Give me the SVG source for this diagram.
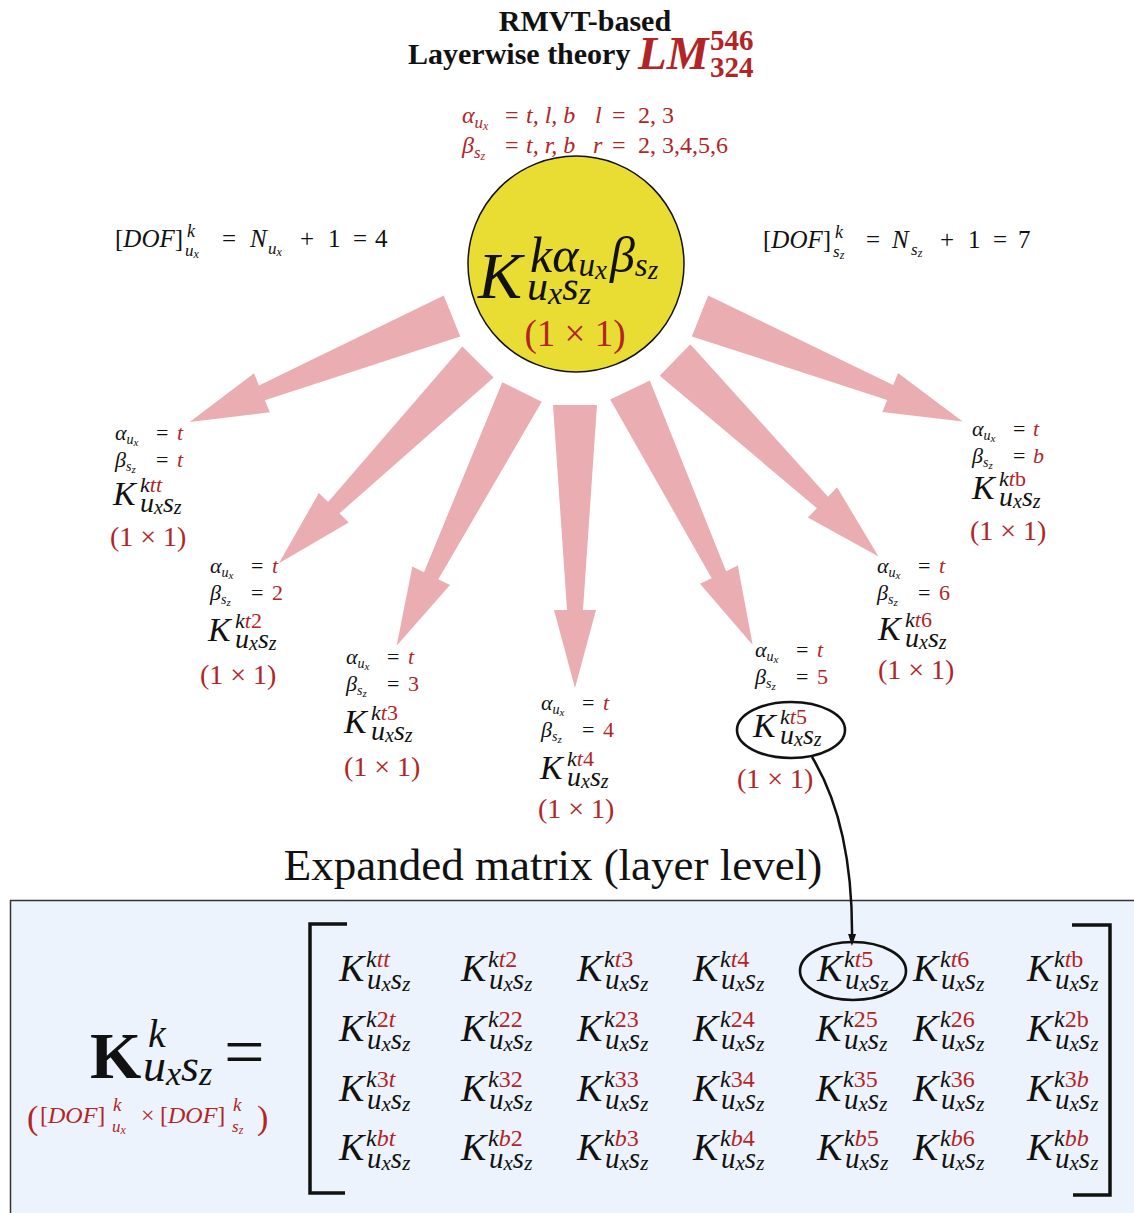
<svg xmlns="http://www.w3.org/2000/svg" xmlns:xlink="http://www.w3.org/1999/xlink" width="1134" height="1213" viewBox="0 0 1134 1213">
<style>
text{font-family:"Liberation Serif","Times New Roman",serif;fill:#111}
.i{font-style:italic}
.n{font-style:normal}
.r{fill:#b22527}
.b{font-weight:bold}
.lab{font-size:22px}
.ls{font-size:14px}
.lss{font-size:11px}
.Kn{font-size:34px;font-style:italic}
.supn{font-size:22px;font-style:italic}
.subn{font-size:28px;font-style:italic}
.ssn{font-size:20px}
.Km{font-size:38px;font-style:italic}
.supm{font-size:24px;font-style:italic}
.subm{font-size:29px;font-style:italic}
.ssm{font-size:21px}
.one{font-size:28px;fill:#b22527}
.dof{font-size:25px}
.arw{fill:#e9adb2}
.ring{fill:none;stroke:#111;stroke-width:2.6}
</style>
<defs>
<path id="arw" d="M0,-22 L205,-8 L205,-21 L283,0 L205,21 L205,8 L0,22Z"/>
<marker id="ah" markerWidth="12" markerHeight="18" refX="9" refY="6" orient="auto" markerUnits="userSpaceOnUse" viewBox="0 0 18 12">
<path d="M0,0 L18,6 L0,12Z" fill="#111"/>
</marker>
</defs>
<rect x="0" y="0" width="1134" height="1213" fill="#fff"/>

<!-- title -->
<g id="title">
<text class="b" x="585" y="31" font-size="30" text-anchor="middle">RMVT-based</text>
<text class="b" x="408" y="64" font-size="30">Layerwise theory</text>
<text class="b i r" x="638" y="69" font-size="47">LM</text>
<text class="b r" x="710" y="50" font-size="29">546</text>
<text class="b r" x="710" y="77" font-size="29">324</text>
</g>

<g id="params">
<text class="i r" y="123" font-size="24"><tspan x="462">α</tspan><tspan font-size="17" dy="5">u</tspan><tspan font-size="12" dy="2">x</tspan><tspan class="n" x="505" dy="-7">=</tspan><tspan x="526">t, l, b</tspan><tspan x="595">l</tspan><tspan class="n" x="612">=</tspan><tspan class="n" x="638">2, 3</tspan></text>
<text class="i r" y="153" font-size="24"><tspan x="462">β</tspan><tspan font-size="17" dy="5">s</tspan><tspan font-size="12" dy="2">z</tspan><tspan class="n" x="505" dy="-7">=</tspan><tspan x="526">t, r, b</tspan><tspan x="593">r</tspan><tspan class="n" x="612">=</tspan><tspan class="n" x="638">2, 3,4,5,6</tspan></text>
</g>

<g id="dof-ux">
<text class="dof" y="247"><tspan x="115">[</tspan><tspan class="i">DOF</tspan><tspan>]</tspan></text>
<text class="i" x="187" y="237" font-size="18">k</text>
<text class="i" x="185" y="256" font-size="17">u<tspan font-size="12" dy="2">x</tspan></text>
<text class="dof" x="222" y="247">=</text>
<text class="dof i" x="250" y="247">N</text>
<text class="i" x="268" y="254" font-size="17">u<tspan font-size="12" dy="2">x</tspan></text>
<text class="dof" x="300" y="247">+</text>
<text class="dof" x="328" y="247">1</text>
<text class="dof" x="353" y="247">=</text>
<text class="dof" x="375" y="247">4</text>
</g>

<g id="dof-sz">
<text class="dof" y="248"><tspan x="763">[</tspan><tspan class="i">DOF</tspan><tspan>]</tspan></text>
<text class="i" x="835" y="238" font-size="18">k</text>
<text class="i" x="833" y="257" font-size="17">s<tspan font-size="12" dy="2">z</tspan></text>
<text class="dof" x="866" y="248">=</text>
<text class="dof i" x="892" y="248">N</text>
<text class="i" x="911" y="255" font-size="17">s<tspan font-size="12" dy="2">z</tspan></text>
<text class="dof" x="940" y="248">+</text>
<text class="dof" x="968" y="248">1</text>
<text class="dof" x="993" y="248">=</text>
<text class="dof" x="1018" y="248">7</text>
</g>

<!-- connectors -->
<g id="connectors">
<use xlink:href="#arw" href="#arw" class="arw" transform="translate(452,316) rotate(158)"/>
<use xlink:href="#arw" href="#arw" class="arw" transform="translate(478,362) rotate(134.7)"/>
<use xlink:href="#arw" href="#arw" class="arw" transform="translate(522,392) rotate(116.3)"/>
<use xlink:href="#arw" href="#arw" class="arw" transform="translate(575,405) rotate(90)"/>
<use xlink:href="#arw" href="#arw" class="arw" transform="translate(630,390) rotate(64.3)"/>
<use xlink:href="#arw" href="#arw" class="arw" transform="translate(675,360) rotate(44)"/>
<use xlink:href="#arw" href="#arw" class="arw" transform="translate(700,316) rotate(21.9)"/>
</g>

<!-- center node -->
<g id="center">
<circle cx="576" cy="264" r="108" fill="#e9dc33" stroke="#111" stroke-width="1.5"/>
<text class="i" x="478" y="298" font-size="66">K</text>
<text class="i" x="530" y="272" font-size="50">kα<tspan font-size="33" dy="4">u</tspan><tspan font-size="27" dy="3">x</tspan><tspan dy="-7" dx="3">β</tspan><tspan font-size="33" dy="4">s</tspan><tspan font-size="27" dy="3">z</tspan></text>
<text class="i" x="527" y="300" font-size="42">u<tspan font-size="32" dy="4">x</tspan><tspan dy="-4">s</tspan><tspan font-size="32" dy="4">z</tspan></text>
<text x="575" y="346" font-size="37" class="r" text-anchor="middle">(1 × 1)</text>
</g>

<!-- child nodes -->
<g id="node-tt">
<text class="lab i" x="115" y="440">α<tspan class="ls" dy="4">u</tspan><tspan class="lss" dy="2">x</tspan></text>
<text class="lab" x="156" y="440">=</text><text class="lab i r" x="177" y="440">t</text>
<text class="lab i" x="115" y="467">β<tspan class="ls" dy="4">s</tspan><tspan class="lss" dy="2">z</tspan></text>
<text class="lab" x="156" y="467">=</text><text class="lab i r" x="177" y="467">t</text>
<text class="Kn" x="113" y="505">K</text>
<text class="supn" x="140" y="492">k<tspan class="r">tt</tspan></text>
<text class="subn" x="140" y="512">u<tspan class="ssn" dy="2">x</tspan><tspan dy="-2">s</tspan><tspan class="ssn" dy="2">z</tspan></text>
<text class="one" x="110" y="546">(1 × 1)</text>
</g>

<g id="node-t2">
<text class="lab i" x="210" y="573">α<tspan class="ls" dy="4">u</tspan><tspan class="lss" dy="2">x</tspan></text>
<text class="lab" x="251" y="573">=</text><text class="lab i r" x="272" y="573">t</text>
<text class="lab i" x="210" y="600">β<tspan class="ls" dy="4">s</tspan><tspan class="lss" dy="2">z</tspan></text>
<text class="lab" x="251" y="600">=</text><text class="lab r" x="272" y="600">2</text>
<text class="Kn" x="208" y="641">K</text>
<text class="supn" x="235" y="628">k<tspan class="r">t<tspan class="n">2</tspan></tspan></text>
<text class="subn" x="235" y="648">u<tspan class="ssn" dy="2">x</tspan><tspan dy="-2">s</tspan><tspan class="ssn" dy="2">z</tspan></text>
<text class="one" x="200" y="684">(1 × 1)</text>
</g>

<g id="node-t3">
<text class="lab i" x="346" y="664">α<tspan class="ls" dy="4">u</tspan><tspan class="lss" dy="2">x</tspan></text>
<text class="lab" x="387" y="664">=</text><text class="lab i r" x="408" y="664">t</text>
<text class="lab i" x="346" y="691">β<tspan class="ls" dy="4">s</tspan><tspan class="lss" dy="2">z</tspan></text>
<text class="lab" x="387" y="691">=</text><text class="lab r" x="408" y="691">3</text>
<text class="Kn" x="344" y="733">K</text>
<text class="supn" x="371" y="720">k<tspan class="r">t<tspan class="n">3</tspan></tspan></text>
<text class="subn" x="371" y="740">u<tspan class="ssn" dy="2">x</tspan><tspan dy="-2">s</tspan><tspan class="ssn" dy="2">z</tspan></text>
<text class="one" x="344" y="776">(1 × 1)</text>
</g>

<g id="node-t4">
<text class="lab i" x="541" y="710">α<tspan class="ls" dy="4">u</tspan><tspan class="lss" dy="2">x</tspan></text>
<text class="lab" x="582" y="710">=</text><text class="lab i r" x="603" y="710">t</text>
<text class="lab i" x="541" y="737">β<tspan class="ls" dy="4">s</tspan><tspan class="lss" dy="2">z</tspan></text>
<text class="lab" x="582" y="737">=</text><text class="lab r" x="603" y="737">4</text>
<text class="Kn" x="540" y="779">K</text>
<text class="supn" x="567" y="766">k<tspan class="r">t<tspan class="n">4</tspan></tspan></text>
<text class="subn" x="567" y="786">u<tspan class="ssn" dy="2">x</tspan><tspan dy="-2">s</tspan><tspan class="ssn" dy="2">z</tspan></text>
<text class="one" x="538" y="818">(1 × 1)</text>
</g>

<g id="node-t5">
<text class="lab i" x="755" y="657">α<tspan class="ls" dy="4">u</tspan><tspan class="lss" dy="2">x</tspan></text>
<text class="lab" x="796" y="657">=</text><text class="lab i r" x="817" y="657">t</text>
<text class="lab i" x="755" y="684">β<tspan class="ls" dy="4">s</tspan><tspan class="lss" dy="2">z</tspan></text>
<text class="lab" x="796" y="684">=</text><text class="lab r" x="817" y="684">5</text>
<ellipse class="ring" cx="791" cy="730" rx="54" ry="28"/>
<text class="Kn" x="753" y="737">K</text>
<text class="supn" x="780" y="724">k<tspan class="r">t<tspan class="n">5</tspan></tspan></text>
<text class="subn" x="780" y="744">u<tspan class="ssn" dy="2">x</tspan><tspan dy="-2">s</tspan><tspan class="ssn" dy="2">z</tspan></text>
<text class="one" x="737" y="788">(1 × 1)</text>
</g>

<g id="node-t6">
<text class="lab i" x="877" y="573">α<tspan class="ls" dy="4">u</tspan><tspan class="lss" dy="2">x</tspan></text>
<text class="lab" x="918" y="573">=</text><text class="lab i r" x="939" y="573">t</text>
<text class="lab i" x="877" y="600">β<tspan class="ls" dy="4">s</tspan><tspan class="lss" dy="2">z</tspan></text>
<text class="lab" x="918" y="600">=</text><text class="lab r" x="939" y="600">6</text>
<text class="Kn" x="878" y="640">K</text>
<text class="supn" x="905" y="627">k<tspan class="r">t<tspan class="n">6</tspan></tspan></text>
<text class="subn" x="905" y="647">u<tspan class="ssn" dy="2">x</tspan><tspan dy="-2">s</tspan><tspan class="ssn" dy="2">z</tspan></text>
<text class="one" x="878" y="679">(1 × 1)</text>
</g>

<g id="node-tb">
<text class="lab i" x="972" y="436">α<tspan class="ls" dy="4">u</tspan><tspan class="lss" dy="2">x</tspan></text>
<text class="lab" x="1013" y="436">=</text><text class="lab i r" x="1033" y="436">t</text>
<text class="lab i" x="972" y="463">β<tspan class="ls" dy="4">s</tspan><tspan class="lss" dy="2">z</tspan></text>
<text class="lab" x="1013" y="463">=</text><text class="lab i r" x="1033" y="463">b</text>
<text class="Kn" x="972" y="499">K</text>
<text class="supn" x="999" y="486">k<tspan class="r">t<tspan class="n">b</tspan></tspan></text>
<text class="subn" x="999" y="506">u<tspan class="ssn" dy="2">x</tspan><tspan dy="-2">s</tspan><tspan class="ssn" dy="2">z</tspan></text>
<text class="one" x="970" y="540">(1 × 1)</text>
</g>

<text id="expanded-title" x="553" y="880" font-size="45" text-anchor="middle">Expanded matrix (layer level)</text>

<!-- matrix panel -->
<g id="matrix-panel">
<rect x="10.5" y="900.5" width="1140" height="330" fill="#ecf3fc" stroke="#333" stroke-width="1.5"/>
<text class="b" x="90" y="1078" font-size="66">K</text>
<text class="i" x="148" y="1047" font-size="40">k</text>
<text class="i" x="143" y="1081" font-size="46">u<tspan font-size="34" dy="4">x</tspan><tspan dy="-4">s</tspan><tspan font-size="34" dy="4">z</tspan></text>
<text x="224" y="1076" font-size="72">=</text>
<g id="dims">
<text class="r" x="27" y="1129" font-size="34">(</text>
<text class="r" x="40" y="1123" font-size="24">[<tspan class="i">DOF</tspan>]</text>
<text class="r i" x="113" y="1111" font-size="19">k</text>
<text class="r i" x="112" y="1132" font-size="17">u<tspan font-size="12" dy="2">x</tspan></text>
<text class="r" x="141" y="1123" font-size="24">×</text>
<text class="r" x="160" y="1123" font-size="24">[<tspan class="i">DOF</tspan>]</text>
<text class="r i" x="233" y="1111" font-size="19">k</text>
<text class="r i" x="232" y="1132" font-size="17">s<tspan font-size="12" dy="2">z</tspan></text>
<text class="r" x="257" y="1129" font-size="34">)</text>
</g>
<path d="M347,924 H310 V1193 H345" fill="none" stroke="#111" stroke-width="3.5"/>
<path d="M1072,925 H1110 V1195 H1073" fill="none" stroke="#111" stroke-width="3.5"/>
</g>

<g id="matrix-entries">
<!-- row 1 -->
<g id="m-tt"><text class="Km" x="339" y="981">K</text><text class="supm" x="366" y="967">k<tspan class="r">tt</tspan></text><text class="subm" x="367" y="989">u<tspan class="ssm" dy="2">x</tspan><tspan dy="-2">s</tspan><tspan class="ssm" dy="2">z</tspan></text></g>
<g id="m-t2"><text class="Km" x="461" y="981">K</text><text class="supm" x="488" y="967">k<tspan class="r">t<tspan class="n">2</tspan></tspan></text><text class="subm" x="489" y="989">u<tspan class="ssm" dy="2">x</tspan><tspan dy="-2">s</tspan><tspan class="ssm" dy="2">z</tspan></text></g>
<g id="m-t3"><text class="Km" x="577" y="981">K</text><text class="supm" x="604" y="967">k<tspan class="r">t<tspan class="n">3</tspan></tspan></text><text class="subm" x="605" y="989">u<tspan class="ssm" dy="2">x</tspan><tspan dy="-2">s</tspan><tspan class="ssm" dy="2">z</tspan></text></g>
<g id="m-t4"><text class="Km" x="693" y="981">K</text><text class="supm" x="720" y="967">k<tspan class="r">t<tspan class="n">4</tspan></tspan></text><text class="subm" x="721" y="989">u<tspan class="ssm" dy="2">x</tspan><tspan dy="-2">s</tspan><tspan class="ssm" dy="2">z</tspan></text></g>
<g id="m-t5"><ellipse class="ring" cx="853" cy="971" rx="53" ry="29" stroke-width="3"/><text class="Km" x="817" y="981">K</text><text class="supm" x="844" y="967">k<tspan class="r">t<tspan class="n">5</tspan></tspan></text><text class="subm" x="845" y="989">u<tspan class="ssm" dy="2">x</tspan><tspan dy="-2">s</tspan><tspan class="ssm" dy="2">z</tspan></text></g>
<g id="m-t6"><text class="Km" x="913" y="981">K</text><text class="supm" x="940" y="967">k<tspan class="r">t<tspan class="n">6</tspan></tspan></text><text class="subm" x="941" y="989">u<tspan class="ssm" dy="2">x</tspan><tspan dy="-2">s</tspan><tspan class="ssm" dy="2">z</tspan></text></g>
<g id="m-tb"><text class="Km" x="1027" y="981">K</text><text class="supm" x="1054" y="967">k<tspan class="r">t<tspan class="n">b</tspan></tspan></text><text class="subm" x="1055" y="989">u<tspan class="ssm" dy="2">x</tspan><tspan dy="-2">s</tspan><tspan class="ssm" dy="2">z</tspan></text></g>
<!-- row 2 -->
<g id="m-2t"><text class="Km" x="339" y="1041">K</text><text class="supm" x="366" y="1027">k<tspan class="r"><tspan class="n">2</tspan>t</tspan></text><text class="subm" x="367" y="1049">u<tspan class="ssm" dy="2">x</tspan><tspan dy="-2">s</tspan><tspan class="ssm" dy="2">z</tspan></text></g>
<g id="m-22"><text class="Km" x="461" y="1041">K</text><text class="supm" x="488" y="1027">k<tspan class="r n">22</tspan></text><text class="subm" x="489" y="1049">u<tspan class="ssm" dy="2">x</tspan><tspan dy="-2">s</tspan><tspan class="ssm" dy="2">z</tspan></text></g>
<g id="m-23"><text class="Km" x="577" y="1041">K</text><text class="supm" x="604" y="1027">k<tspan class="r n">23</tspan></text><text class="subm" x="605" y="1049">u<tspan class="ssm" dy="2">x</tspan><tspan dy="-2">s</tspan><tspan class="ssm" dy="2">z</tspan></text></g>
<g id="m-24"><text class="Km" x="693" y="1041">K</text><text class="supm" x="720" y="1027">k<tspan class="r n">24</tspan></text><text class="subm" x="721" y="1049">u<tspan class="ssm" dy="2">x</tspan><tspan dy="-2">s</tspan><tspan class="ssm" dy="2">z</tspan></text></g>
<g id="m-25"><text class="Km" x="816" y="1041">K</text><text class="supm" x="843" y="1027">k<tspan class="r n">25</tspan></text><text class="subm" x="844" y="1049">u<tspan class="ssm" dy="2">x</tspan><tspan dy="-2">s</tspan><tspan class="ssm" dy="2">z</tspan></text></g>
<g id="m-26"><text class="Km" x="913" y="1041">K</text><text class="supm" x="940" y="1027">k<tspan class="r n">26</tspan></text><text class="subm" x="941" y="1049">u<tspan class="ssm" dy="2">x</tspan><tspan dy="-2">s</tspan><tspan class="ssm" dy="2">z</tspan></text></g>
<g id="m-2b"><text class="Km" x="1027" y="1041">K</text><text class="supm" x="1054" y="1027">k<tspan class="r n">2b</tspan></text><text class="subm" x="1055" y="1049">u<tspan class="ssm" dy="2">x</tspan><tspan dy="-2">s</tspan><tspan class="ssm" dy="2">z</tspan></text></g>
<!-- row 3 -->
<g id="m-3t"><text class="Km" x="339" y="1101">K</text><text class="supm" x="366" y="1087">k<tspan class="r"><tspan class="n">3</tspan>t</tspan></text><text class="subm" x="367" y="1109">u<tspan class="ssm" dy="2">x</tspan><tspan dy="-2">s</tspan><tspan class="ssm" dy="2">z</tspan></text></g>
<g id="m-32"><text class="Km" x="461" y="1101">K</text><text class="supm" x="488" y="1087">k<tspan class="r n">32</tspan></text><text class="subm" x="489" y="1109">u<tspan class="ssm" dy="2">x</tspan><tspan dy="-2">s</tspan><tspan class="ssm" dy="2">z</tspan></text></g>
<g id="m-33"><text class="Km" x="577" y="1101">K</text><text class="supm" x="604" y="1087">k<tspan class="r n">33</tspan></text><text class="subm" x="605" y="1109">u<tspan class="ssm" dy="2">x</tspan><tspan dy="-2">s</tspan><tspan class="ssm" dy="2">z</tspan></text></g>
<g id="m-34"><text class="Km" x="693" y="1101">K</text><text class="supm" x="720" y="1087">k<tspan class="r n">34</tspan></text><text class="subm" x="721" y="1109">u<tspan class="ssm" dy="2">x</tspan><tspan dy="-2">s</tspan><tspan class="ssm" dy="2">z</tspan></text></g>
<g id="m-35"><text class="Km" x="816" y="1101">K</text><text class="supm" x="843" y="1087">k<tspan class="r n">35</tspan></text><text class="subm" x="844" y="1109">u<tspan class="ssm" dy="2">x</tspan><tspan dy="-2">s</tspan><tspan class="ssm" dy="2">z</tspan></text></g>
<g id="m-36"><text class="Km" x="913" y="1101">K</text><text class="supm" x="940" y="1087">k<tspan class="r n">36</tspan></text><text class="subm" x="941" y="1109">u<tspan class="ssm" dy="2">x</tspan><tspan dy="-2">s</tspan><tspan class="ssm" dy="2">z</tspan></text></g>
<g id="m-3b"><text class="Km" x="1027" y="1101">K</text><text class="supm" x="1054" y="1087">k<tspan class="r"><tspan class="n">3</tspan>b</tspan></text><text class="subm" x="1055" y="1109">u<tspan class="ssm" dy="2">x</tspan><tspan dy="-2">s</tspan><tspan class="ssm" dy="2">z</tspan></text></g>
<!-- row 4 -->
<g id="m-bt"><text class="Km" x="339" y="1160">K</text><text class="supm" x="366" y="1146">k<tspan class="r">bt</tspan></text><text class="subm" x="367" y="1168">u<tspan class="ssm" dy="2">x</tspan><tspan dy="-2">s</tspan><tspan class="ssm" dy="2">z</tspan></text></g>
<g id="m-b2"><text class="Km" x="461" y="1160">K</text><text class="supm" x="488" y="1146">k<tspan class="r">b<tspan class="n">2</tspan></tspan></text><text class="subm" x="489" y="1168">u<tspan class="ssm" dy="2">x</tspan><tspan dy="-2">s</tspan><tspan class="ssm" dy="2">z</tspan></text></g>
<g id="m-b3"><text class="Km" x="577" y="1160">K</text><text class="supm" x="604" y="1146">k<tspan class="r">b<tspan class="n">3</tspan></tspan></text><text class="subm" x="605" y="1168">u<tspan class="ssm" dy="2">x</tspan><tspan dy="-2">s</tspan><tspan class="ssm" dy="2">z</tspan></text></g>
<g id="m-b4"><text class="Km" x="693" y="1160">K</text><text class="supm" x="720" y="1146">k<tspan class="r">b<tspan class="n">4</tspan></tspan></text><text class="subm" x="721" y="1168">u<tspan class="ssm" dy="2">x</tspan><tspan dy="-2">s</tspan><tspan class="ssm" dy="2">z</tspan></text></g>
<g id="m-b5"><text class="Km" x="817" y="1160">K</text><text class="supm" x="844" y="1146">k<tspan class="r">b<tspan class="n">5</tspan></tspan></text><text class="subm" x="845" y="1168">u<tspan class="ssm" dy="2">x</tspan><tspan dy="-2">s</tspan><tspan class="ssm" dy="2">z</tspan></text></g>
<g id="m-b6"><text class="Km" x="913" y="1160">K</text><text class="supm" x="940" y="1146">k<tspan class="r">b<tspan class="n">6</tspan></tspan></text><text class="subm" x="941" y="1168">u<tspan class="ssm" dy="2">x</tspan><tspan dy="-2">s</tspan><tspan class="ssm" dy="2">z</tspan></text></g>
<g id="m-bb"><text class="Km" x="1027" y="1160">K</text><text class="supm" x="1054" y="1146">k<tspan class="r">bb</tspan></text><text class="subm" x="1055" y="1168">u<tspan class="ssm" dy="2">x</tspan><tspan dy="-2">s</tspan><tspan class="ssm" dy="2">z</tspan></text></g>
</g>

<g id="link">
<path d="M812,757 C838,800 853,860 852,940" fill="none" stroke="#111" stroke-width="2.5" marker-end="url(#ah)"/>
</g>
</svg>
